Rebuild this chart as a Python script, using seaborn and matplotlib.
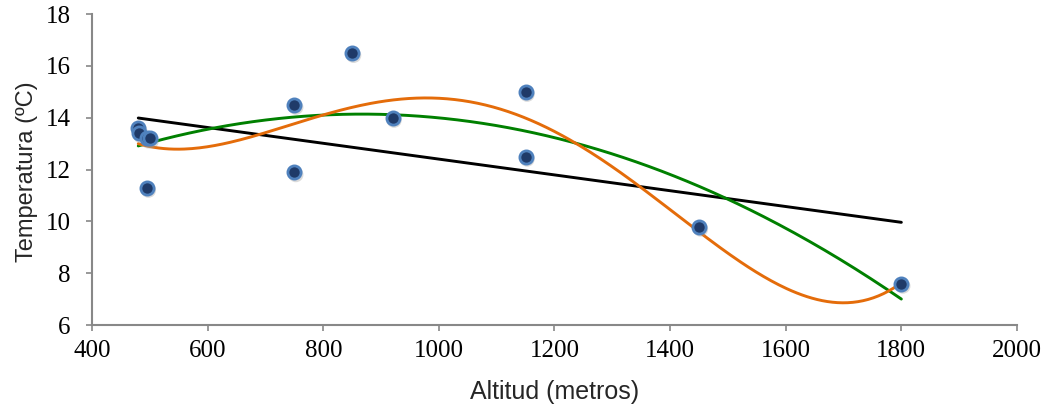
import numpy as np
import pandas as pd
import matplotlib
matplotlib.use("Agg")
import matplotlib.pyplot as plt
import matplotlib.transforms as mtransforms
import seaborn as sns

altitud = [480, 482, 495, 500, 495, 750, 750, 850, 920, 1150, 1150, 1450, 1800]
temperatura = [13.6, 13.4, 13.2, 13.2, 11.3, 14.5, 11.9, 16.5, 14.0, 15.0, 12.5, 9.8, 7.6]
x_ticks = [400, 600, 800, 1000, 1200, 1400, 1600, 1800, 2000]
y_ticks = [6, 8, 10, 12, 14, 16, 18]

df = pd.DataFrame({"Altitud": altitud, "Temperatura": temperatura})

sns.set_style("white")
fig = plt.figure(figsize=(10.48, 4.12), dpi=100)
ax = fig.add_axes([0.0878, 0.211, 0.8826, 0.755])

xs = np.linspace(min(altitud), max(altitud), 300)
for deg, color in [(1, "black"), (2, "#008000"), (4, "#E46C0A")]:
    coef = np.polyfit(altitud, temperatura, deg)
    fit = pd.DataFrame({"x": xs, "y": np.polyval(coef, xs)})
    sns.lineplot(data=fit, x="x", y="y", color=color, lw=2.1, ax=ax, zorder=2)

# soft shadow under markers
shadow = ax.transData + mtransforms.ScaledTranslation(1.5/100, -2.5/100, fig.dpi_scale_trans)
sns.scatterplot(data=df, x="Altitud", y="Temperatura", ax=ax, s=120,
                color="#999999", edgecolor="none", alpha=0.35, zorder=3,
                transform=shadow)
sns.scatterplot(data=df, x="Altitud", y="Temperatura", ax=ax, s=90,
                color="#1F3A68", edgecolor="#4F81BD", linewidth=2, zorder=4)

ax.set_xlim(400, 2000)
ax.set_ylim(6, 18)
ax.set_xticks(x_ticks)
ax.set_yticks(y_ticks)
serif = ["Liberation Serif", "DejaVu Serif"]
ax.set_xticklabels([str(v) for v in x_ticks], fontfamily=serif, fontsize=18)
ax.set_yticklabels([str(v) for v in y_ticks], fontfamily=serif, fontsize=18)
ax.tick_params(axis="both", bottom=True, left=True, direction="out",
               length=4.5, width=1.2, color="#888888", labelcolor="black")
ax.tick_params(axis="y", pad=11)
ax.tick_params(axis="x", pad=6)
for side in ["top", "right"]:
    ax.spines[side].set_visible(False)
for side in ["left", "bottom"]:
    ax.spines[side].set_color("#888888")
    ax.spines[side].set_linewidth(1.5)
sans = ["Liberation Sans", "DejaVu Sans"]
ax.set_xlabel("Altitud (metros)", fontfamily=sans, fontsize=18)
ax.set_ylabel("Temperatura (ºC)", fontfamily=sans, fontsize=17)
ax.xaxis.set_label_coords((555 - 92) / 925, -(380 - 325) / 311)
ax.yaxis.set_label_coords(-(92 - 38) / 925, (325 - 172) / 311)

fig.savefig("out.png", dpi=100)
